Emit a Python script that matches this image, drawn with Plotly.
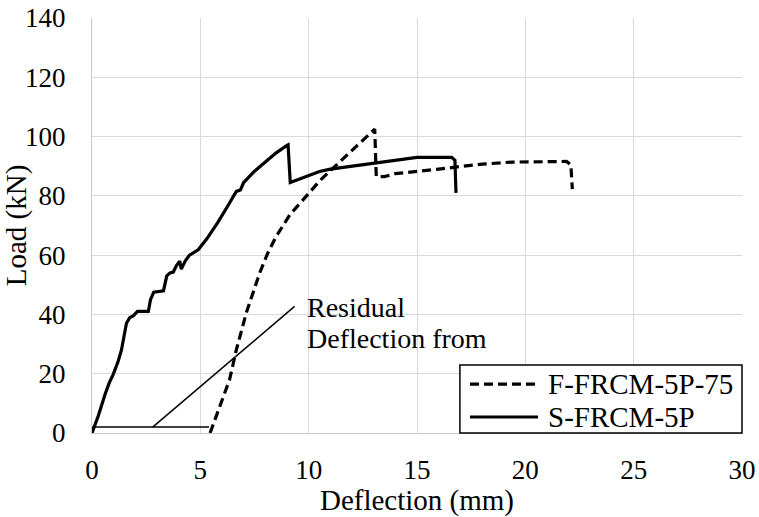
import plotly.graph_objects as go

# ---- data ----
s_x = [0, 0.3, 0.6, 0.8, 0.97, 1.2, 1.36, 1.59, 1.74, 1.9, 2.1, 2.6, 2.7, 2.85, 3.3, 3.45, 3.6, 3.75,
       3.9, 4.05, 4.12, 4.3, 4.5, 4.7, 4.9, 5.3, 5.8, 6.3, 6.66, 6.85, 7.0, 7.5, 8.05, 8.5, 9.0, 9.05,
       9.15, 9.5, 10.0, 10.5, 11.0, 11.5, 12.0, 12.4, 13.0, 13.5, 14.0, 14.5, 15.0, 16.0, 16.6, 16.75, 16.8]
s_y = [0, 6, 13, 17, 19.6, 24, 28, 37, 38.9, 39.5, 41, 41, 45, 47.5, 48, 53, 54, 54.3,
       56.5, 58, 55.3, 58, 60, 60.8, 61.8, 65.5, 71, 77, 81.5, 82, 84.5, 88.3, 91.6, 94.5, 97, 97.2,
       84.5, 85.5, 87, 88.2, 89, 89.5, 90, 90.2, 91, 91.5, 92, 92.5, 93, 93, 93, 92, 81]

f_x = [5.45, 5.6, 5.9, 6.35, 6.66, 7.12, 7.74, 8.1, 8.5, 8.9, 9.13, 9.6, 10.05, 10.5, 11.0, 11.5,
       12.05, 12.5, 13.05, 13.12, 13.5, 14.0, 15.0, 15.6, 16.0, 17.0, 18.0, 19.4, 21.0, 21.9, 22.1, 22.17]
f_y = [0, 3, 9.5, 18, 28, 40.5, 54, 60.5, 66.3, 71, 73.6, 77.5, 81.2, 85, 88.5, 92,
       95.7, 99, 102.5, 86.5, 86.5, 87.5, 88.2, 88.5, 89, 89.9, 90.7, 91.4, 91.6, 91.6, 90.5, 82.3]

series_names = ["F-FRCM-5P-75", "S-FRCM-5P"]
series_dash = ["9px,5px", "solid"]

residual_x = [0, 5.4]
residual_y = [2, 2]
leader_x = [2.8, 9.35]
leader_y = [2, 42.7]
note_x = 9.82
note_lines = ["Residual", "Deflection from"]
note_y = [42.4, 31.8]

x_ticks = [0, 5, 10, 15, 20, 25, 30]
y_ticks = [0, 20, 40, 60, 80, 100, 120, 140]

FONT = "Liberation Serif"

fig = go.Figure()
fig.add_trace(go.Scatter(x=residual_x, y=residual_y, mode="lines",
                         line=dict(color="black", width=1.5), showlegend=False, hoverinfo="skip"))
fig.add_trace(go.Scatter(x=leader_x, y=leader_y, mode="lines",
                         line=dict(color="black", width=1.5), showlegend=False, hoverinfo="skip"))
fig.add_trace(go.Scatter(x=f_x, y=f_y, mode="lines", name=series_names[0], showlegend=False,
                         line=dict(color="black", width=3.2, dash=series_dash[0])))
fig.add_trace(go.Scatter(x=s_x, y=s_y, mode="lines", name=series_names[1], showlegend=False,
                         line=dict(color="black", width=3.2, dash=series_dash[1])))

for txt, yy in zip(note_lines, note_y):
    fig.add_annotation(x=note_x, y=yy, text=txt, showarrow=False,
                       xanchor="left", yanchor="middle", align="left",
                       font=dict(family=FONT, size=28, color="black"))

# ---- legend box (drawn in plot-area paper coordinates) ----
fig.add_shape(type="rect", xref="paper", yref="paper", x0=0.566, x1=1.0, y0=0.0, y1=0.164,
              line=dict(color="black", width=1.5), fillcolor="white", layer="above")
leg_rows = [0.118, 0.0386]
for name, dash, yy in zip(series_names, series_dash, leg_rows):
    fig.add_shape(type="line", xref="paper", yref="paper", x0=0.5815, x1=0.6862, y0=yy, y1=yy,
                  line=dict(color="black", width=3.2, dash=dash), layer="above")
    fig.add_annotation(xref="paper", yref="paper", x=0.699, y=yy, text=name, showarrow=False,
                       xanchor="left", yanchor="middle",
                       font=dict(family=FONT, size=29, color="black"))

fig.update_layout(
    width=759, height=517,
    margin=dict(l=92, r=17, t=18, b=84),
    plot_bgcolor="white", paper_bgcolor="white",
    font=dict(family=FONT, color="black"),
    showlegend=False,
    xaxis=dict(range=[0, 30], tickvals=x_ticks, showgrid=True, gridcolor="#d9d9d9", gridwidth=1.3,
               zeroline=False, showline=True, linecolor="#c8c8c8", linewidth=1.3, automargin=False,
               tickfont=dict(family=FONT, size=27), ticks="", ticklabelstandoff=12,
               title=dict(text="Deflection (mm)", font=dict(family=FONT, size=29), standoff=0)),
    yaxis=dict(range=[0, 140], tickvals=y_ticks, showgrid=True, gridcolor="#d9d9d9", gridwidth=1.3,
               zeroline=False, showline=True, linecolor="#c8c8c8", linewidth=1.3, automargin=False,
               tickfont=dict(family=FONT, size=27), ticks="", ticklabelstandoff=20,
               title=dict(text="Load (kN)", font=dict(family=FONT, size=29), standoff=1)),
)

fig.write_html("out.html", config={"displayModeBar": False},
               post_script="document.body.style.margin='0';")
